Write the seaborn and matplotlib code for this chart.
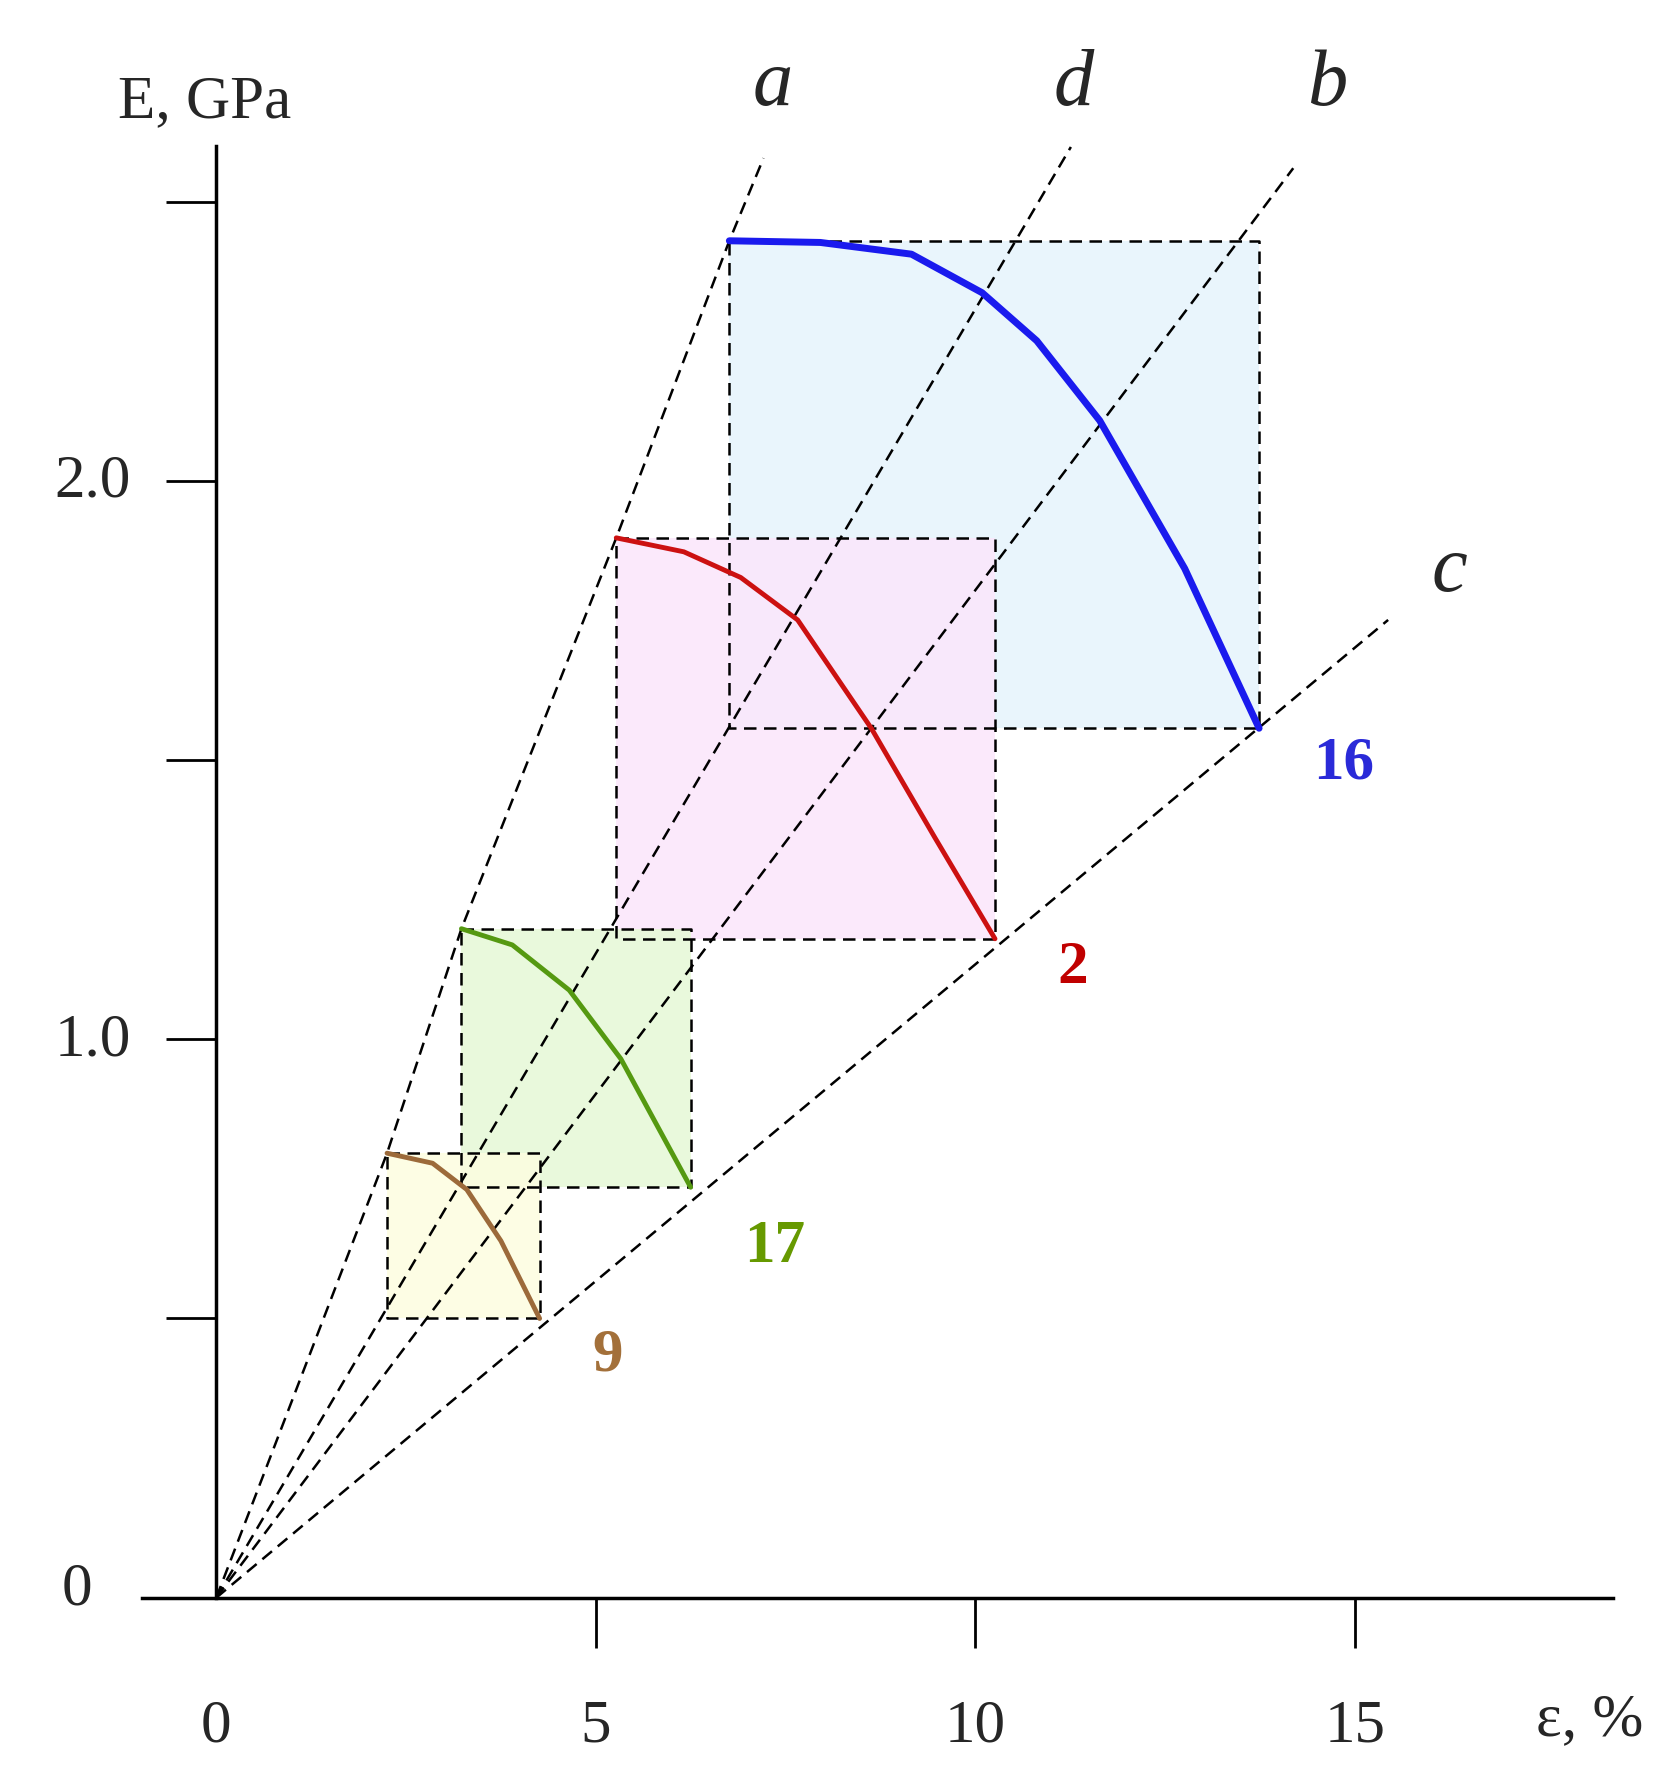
import matplotlib
matplotlib.use("Agg")
import matplotlib.pyplot as plt
import seaborn as sns
import numpy as np

sns.set_theme(style="white")
plt.rcParams['font.family'] = ['Liberation Serif', 'DejaVu Serif']

# curves (strain %, modulus GPa)
blue_x = [6.76, 7.96, 9.16, 10.09, 10.81, 11.64, 12.76, 13.74]
blue_y = [2.43, 2.427, 2.406, 2.337, 2.251, 2.108, 1.843, 1.557]
red_x = [5.27, 6.16, 6.91, 7.66, 8.63, 9.46, 10.26]
red_y = [1.898, 1.873, 1.827, 1.751, 1.557, 1.363, 1.18]
green_x = [3.23, 3.90, 4.65, 5.33, 6.25]
green_y = [1.198, 1.169, 1.088, 0.965, 0.735]
brown_x = [2.25, 2.85, 3.30, 3.75, 4.26]
brown_y = [0.796, 0.778, 0.731, 0.639, 0.5]
labels = ["16", "2", "17", "9"]
label_pos = [(14.86, 1.496), (11.29, 1.129), (7.36, 0.629), (5.15, 0.435)]
line_colors = ["#1a1aee", "#cc1111", "#559911", "#9c6a3a"]
fill_colors = ["#e6f4fc", "#fbe6fb", "#e6f9d6", "#fdfde0"]
text_colors = ["#2a2ad8", "#c00000", "#669900", "#a3703a"]

# reference lines from origin
a_x = [0, 2.25, 3.23, 5.27, 6.76, 7.21]
a_y = [0, 0.796, 1.198, 1.898, 2.43, 2.578]
d_x = [0, 11.26]; d_y = [0, 2.598]
b_x = [0, 14.19]; b_y = [0, 2.56]
c_x = [0, 15.44]; c_y = [0, 1.751]

fig = plt.figure(figsize=(16.75, 17.74), dpi=100)
ax = fig.add_axes([0, 0, 1, 1])
ax.set_xlim(-2.85, 19.22)
ax.set_ylim(-0.314, 2.863)

curves = [(blue_x, blue_y), (red_x, red_y), (green_x, green_y), (brown_x, brown_y)]
dash = dict(color="black", lw=1.8, ls=(0, (5, 3)))
for (cx, cy), fc in zip(curves, fill_colors):
    ax.fill_between([cx[0], cx[-1]], cy[-1], cy[0], color=fc, alpha=0.85, lw=0, zorder=1)
for (cx, cy) in curves:
    ax.plot([cx[0], cx[-1], cx[-1], cx[0], cx[0]], [cy[0], cy[0], cy[-1], cy[-1], cy[0]], zorder=2, **dash)
for lx, ly in [(a_x, a_y), (d_x, d_y), (b_x, b_y), (c_x, c_y)]:
    ax.plot(lx, ly, zorder=2, **dash)
for (cx, cy), lc, lw in zip(curves, line_colors, [5, 3.5, 3.5, 3.5]):
    sns.lineplot(x=cx, y=cy, ax=ax, color=lc, lw=lw, zorder=3, sort=False)
for t, (px, py), tc in zip(labels, label_pos, text_colors):
    ax.text(px, py, t, color=tc, fontsize=44, fontweight="bold", ha="center", va="center")

for t, px, py in [("a", 7.33, 2.71), ("d", 11.3, 2.71), ("b", 14.64, 2.71), ("c", 16.25, 1.84)]:
    ax.text(px, py, t, fontsize=58, style="italic", ha="center", va="center")

# axes
for s in ["top", "right"]:
    ax.spines[s].set_visible(False)
ax.spines["left"].set_position(("data", 0))
ax.spines["bottom"].set_position(("data", 0))
ax.spines["left"].set_bounds(0, 2.6)
ax.spines["bottom"].set_bounds(-0.98, 18.4)
for s in ["left", "bottom"]:
    ax.spines[s].set_linewidth(2.5)
    ax.spines[s].set_color("black")
ax.set_xticks([5, 10, 15], labels=["", "", ""])
ax.set_yticks([0.5, 1.0, 1.5, 2.0, 2.5], labels=[""] * 5)
ax.tick_params(axis="both", direction="out", length=36, width=2, color="black")
ax.tick_params(left=True, bottom=True)

for v in [0, 5, 10, 15]:
    ax.text(v, -0.229, str(v), fontsize=44, ha="center", va="center")
for v in [1.0, 2.0]:
    ax.text(-1.13, v, f"{v:.1f}", fontsize=44, ha="right", va="center")
ax.text(-1.83, 0.016, "0", fontsize=44, ha="center", va="center")
ax.text(-0.15, 2.68, "E, GPa", fontsize=44, ha="center", va="center")
ax.text(18.1, -0.218, "ε, %", fontsize=44, ha="center", va="center")
ax.grid(False)

fig.savefig("out.png", dpi=100, facecolor="white")
